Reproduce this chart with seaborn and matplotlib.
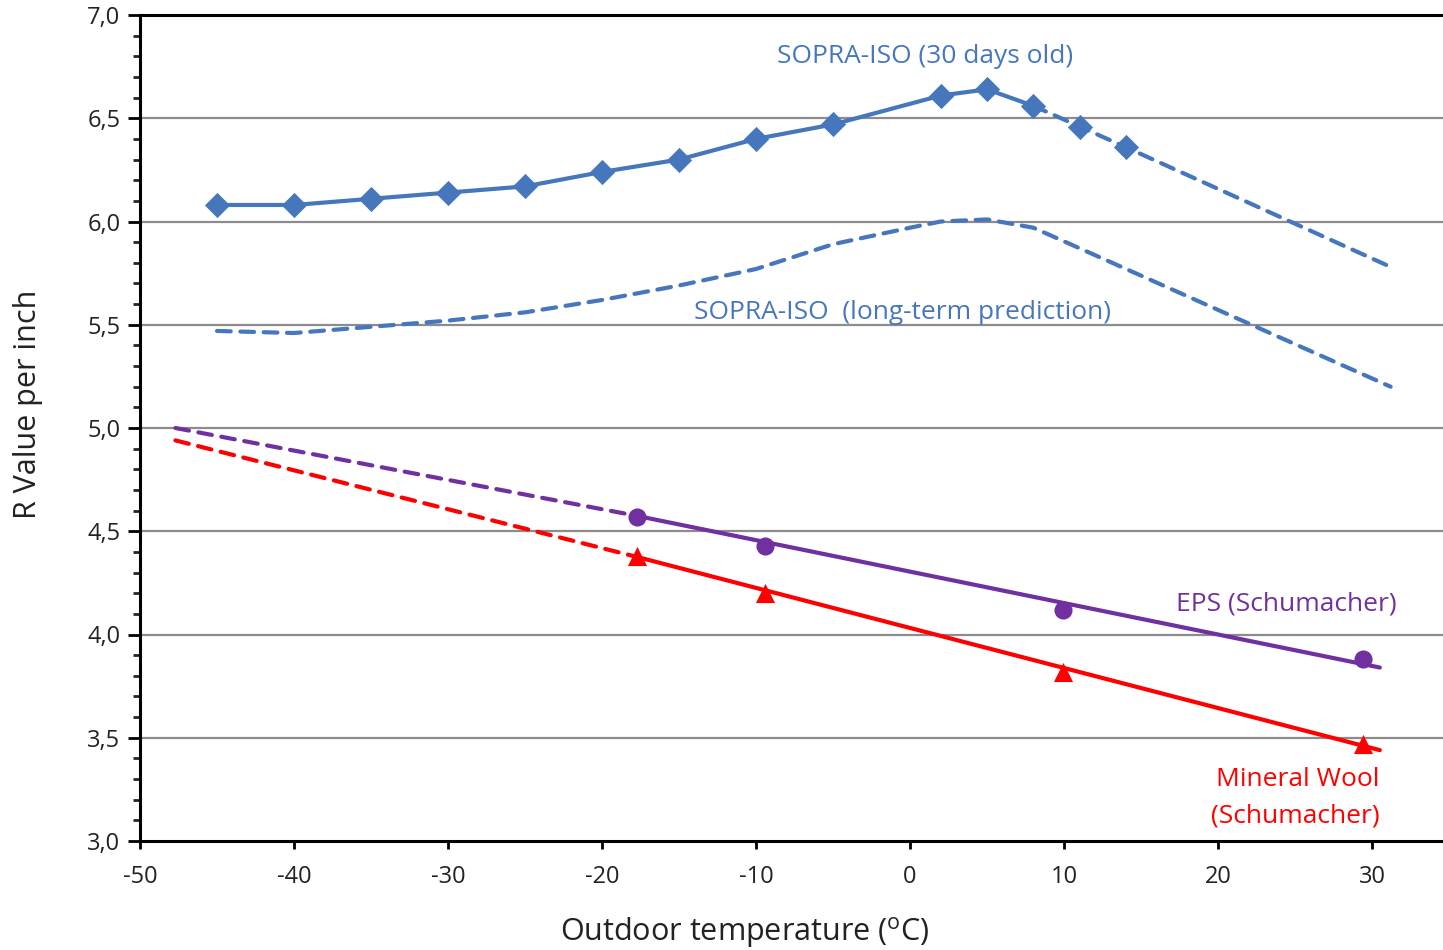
import numpy as np
import pandas as pd
import matplotlib
matplotlib.use("Agg")
import matplotlib.pyplot as plt
from matplotlib.ticker import MultipleLocator, FuncFormatter
import seaborn as sns

# ---------------- data ----------------
sopra30_temp = [-45, -40, -35, -30, -25, -20, -15, -10, -5, 2, 5, 8, 11, 14]
sopra30_r = [6.08, 6.08, 6.11, 6.14, 6.17, 6.24, 6.30, 6.40, 6.47, 6.61, 6.64, 6.56, 6.46, 6.36]
sopra30_ext_temp = [8, 11, 14, 31.2]
sopra30_ext_r = [6.56, 6.46, 6.36, 5.78]

sopra_lt_temp = [-45, -40, -35, -30, -25, -20, -15, -10, -5, 0, 2, 5, 8, 31.2]
sopra_lt_r = [5.47, 5.46, 5.49, 5.52, 5.56, 5.62, 5.69, 5.77, 5.89, 5.97, 6.00, 6.01, 5.97, 5.20]

eps_temp = [-17.7, -9.4, 9.9, 29.4]
eps_r = [4.57, 4.43, 4.12, 3.88]
eps_fit_temp = [-17.7, 30.5]
eps_fit_r = [4.574, 3.84]
eps_ext_temp = [-47.7, -17.7]
eps_ext_r = [5.00, 4.574]

mw_temp = [-17.7, -9.4, 9.9, 29.4]
mw_r = [4.38, 4.20, 3.82, 3.47]
mw_fit_temp = [-17.7, 30.5]
mw_fit_r = [4.375, 3.44]
mw_ext_temp = [-47.7, -17.7]
mw_ext_r = [4.94, 4.375]

x_ticks = [-50, -40, -30, -20, -10, 0, 10, 20, 30]
y_ticks = [3.0, 3.5, 4.0, 4.5, 5.0, 5.5, 6.0, 6.5, 7.0]

BLUE = "#4677BC"
PURPLE = "#7030A0"
RED = "#FF0000"

sns.set_theme(style="white")
plt.rcParams["font.family"] = ["Open Sans", "DejaVu Sans"]

fig = plt.figure(figsize=(14.43, 9.5), dpi=100)
ax = fig.add_axes([140 / 1443, 1 - 841 / 950, 1 - 140 / 1443, (841 - 15) / 950])

# gridlines
for yv in y_ticks[1:-1]:
    ax.axhline(yv, color="#8c8c8c", lw=1.6, zorder=0)

dash = (0, (3.3, 2.3))
LW = 3.0

def line(x, y, color, ls="-", lw=LW):
    df = pd.DataFrame({"x": x, "y": y})
    sns.lineplot(data=df, x="x", y="y", ax=ax, color=color, lw=lw, sort=False,
                 estimator=None, linestyle=ls)
    ax.lines[-1].set_linestyle(ls)
    ax.lines[-1].set_solid_capstyle("round")
    ax.lines[-1].set_solid_joinstyle("round")
    ax.lines[-1].set_dash_capstyle("round")

def pts(x, y, color, marker, s):
    df = pd.DataFrame({"x": x, "y": y})
    sns.scatterplot(data=df, x="x", y="y", ax=ax, color=color, marker=marker,
                    s=s, linewidth=0, zorder=5)

# SOPRA-ISO 30 days
line(sopra30_temp[:12], sopra30_r[:12], BLUE)
line(sopra30_ext_temp, sopra30_ext_r, BLUE, ls=dash)
pts(sopra30_temp, sopra30_r, BLUE, "D", 165)

# SOPRA-ISO long-term
line(sopra_lt_temp, sopra_lt_r, BLUE, ls=dash)

# EPS
line(eps_ext_temp, eps_ext_r, PURPLE, ls=dash)
line(eps_fit_temp, eps_fit_r, PURPLE)
pts(eps_temp, eps_r, PURPLE, "o", 170)

# Mineral wool
line(mw_ext_temp, mw_ext_r, RED, ls=dash)
line(mw_fit_temp, mw_fit_r, RED)
pts(mw_temp, mw_r, RED, "^", 190)

# axes
ax.set_xlim(-50, 34.6)
ax.set_ylim(3.0, 7.0)
ax.set_xticks(x_ticks)
ax.set_yticks(y_ticks)
ax.yaxis.set_minor_locator(MultipleLocator(0.1))
ax.yaxis.set_major_formatter(FuncFormatter(lambda v, p: f"{v:.1f}".replace(".", ",")))
ax.xaxis.set_major_formatter(FuncFormatter(lambda v, p: f"{int(v)}"))
ax.tick_params(axis="both", which="major", direction="out", labelsize=17, colors="black",
               width=2, labelcolor="#222222")
ax.tick_params(axis="y", which="major", length=9, left=True, pad=5)
ax.tick_params(axis="y", which="minor", length=5, width=2, left=True)
ax.tick_params(axis="x", which="major", length=6, bottom=True, pad=11)
for side in ["left", "bottom", "top"]:
    ax.spines[side].set_visible(True)
    ax.spines[side].set_color("black")
    ax.spines[side].set_linewidth(2.2)
ax.spines["right"].set_visible(False)

ax.set_xlabel("Outdoor temperature ($^{\\mathregular{o}}$C)", fontsize=22, color="#222222")
ax.xaxis.set_label_coords((745 - 140) / 1303, -(933 - 841) / 826)
ax.xaxis.label.set_va("center")
ax.set_ylabel("R Value per inch", fontsize=22, color="#222222")
ax.yaxis.set_label_coords((28 - 140) / 1303, (841 - 404) / 826)
ax.yaxis.label.set_va("center")

# annotations
FS = 19
ax.text(1.0, 6.80, "SOPRA-ISO (30 days old)", color=BLUE, fontsize=FS, ha="center", va="center")
ax.text(-0.5, 5.56, "SOPRA-ISO  (long-term prediction)", color=BLUE, fontsize=FS, ha="center", va="center")
ax.text(24.4, 4.15, "EPS (Schumacher)", color=PURPLE, fontsize=FS, ha="center", va="center")
ax.text(30.5, 3.30, "Mineral Wool", color=RED, fontsize=FS, ha="right", va="center")
ax.text(30.5, 3.12, "(Schumacher)", color=RED, fontsize=FS, ha="right", va="center")

fig.savefig("out.png", dpi=100)
